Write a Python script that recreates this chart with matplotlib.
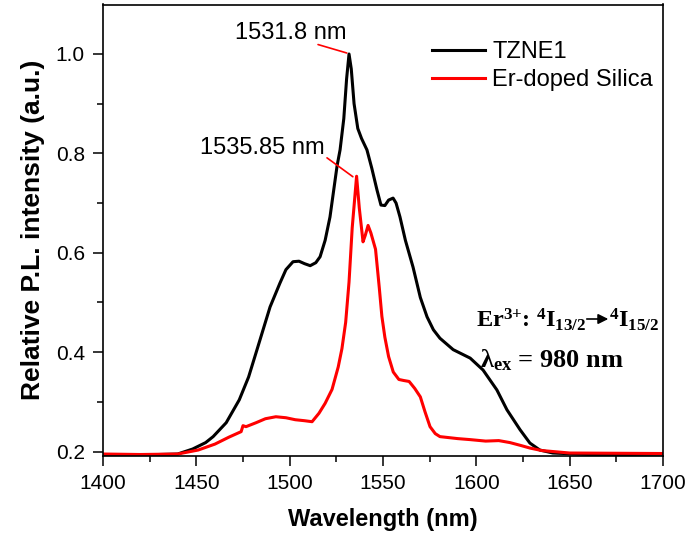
import matplotlib
matplotlib.use("Agg")
import matplotlib.pyplot as plt
from matplotlib.ticker import MultipleLocator, FormatStrFormatter

plt.rcParams['font.family'] = ['Liberation Sans', 'DejaVu Sans']
plt.rcParams['mathtext.fontset'] = 'custom'
plt.rcParams['mathtext.rm'] = 'Liberation Serif:bold'
plt.rcParams['mathtext.it'] = 'Liberation Serif:bold:italic'
plt.rcParams['mathtext.bf'] = 'Liberation Serif:bold'
plt.rcParams['mathtext.default'] = 'rm'

# ---- data ----
wl_tzne = [1400, 1420, 1440, 1448, 1455, 1459, 1466, 1473, 1478, 1482.5, 1489.5, 1494.8,
           1498, 1501.8, 1505, 1508, 1511, 1514, 1516.3, 1519, 1521.6, 1525.4, 1527, 1529,
           1530.5, 1531.8, 1533, 1534.5, 1536.5, 1538.5, 1541.4, 1544, 1546.8, 1548.9, 1551,
           1553, 1555.4, 1557, 1559.1, 1562, 1566.1, 1570, 1573.6, 1577, 1580.5, 1587.6,
           1596.7, 1603.6, 1611, 1616.4, 1623.4, 1628.7, 1634, 1641, 1660, 1680, 1700]
int_tzne = [0.194, 0.193, 0.195, 0.205, 0.218, 0.230, 0.258, 0.304, 0.350, 0.405, 0.491, 0.539,
            0.566, 0.582, 0.583, 0.578, 0.574, 0.580, 0.592, 0.625, 0.672, 0.775, 0.807, 0.870,
            0.950, 1.000, 0.970, 0.900, 0.850, 0.830, 0.807, 0.770, 0.726, 0.696, 0.695,
            0.706, 0.710, 0.700, 0.672, 0.625, 0.571, 0.510, 0.471, 0.445, 0.428, 0.405,
            0.388, 0.364, 0.324, 0.284, 0.244, 0.217, 0.203, 0.197, 0.194, 0.194, 0.195]

wl_si = [1400, 1420, 1440, 1451, 1460, 1467.5, 1474, 1475, 1476.6, 1482, 1487, 1492.6, 1498,
         1503, 1508, 1512, 1515.7, 1519, 1522.7, 1526, 1528, 1530, 1531.8, 1533.5, 1535.85,
         1537.3, 1539.3, 1540.5, 1542, 1543.5, 1546, 1548, 1549.4, 1551, 1553, 1555.5, 1558.5,
         1561, 1564, 1567, 1570, 1572.5, 1575.2, 1578, 1580.5, 1590, 1596.6, 1605, 1612, 1618,
         1624, 1628.7, 1635, 1641, 1650, 1700]
int_si = [0.195, 0.194, 0.195, 0.203, 0.215, 0.229, 0.240, 0.252, 0.250, 0.258, 0.266, 0.270, 0.268,
          0.264, 0.262, 0.260, 0.277, 0.297, 0.325, 0.370, 0.407, 0.460, 0.541, 0.650, 0.754,
          0.690, 0.622, 0.635, 0.655, 0.640, 0.607, 0.530, 0.472, 0.430, 0.391, 0.360, 0.345,
          0.343, 0.341, 0.327, 0.310, 0.280, 0.250, 0.236, 0.230, 0.226, 0.224, 0.221, 0.222, 0.218,
          0.212, 0.207, 0.202, 0.200, 0.197, 0.196]

series_labels = ["TZNE1", "Er-doped Silica"]
peak_tzne = (1531.8, 1.0)
peak_si = (1535.85, 0.754)
peak_labels = ["1531.8 nm", "1535.85 nm"]

W, H = 686, 533
fig = plt.figure(figsize=(W / 100, H / 100), dpi=100)
ax = fig.add_axes([103 / W, (H - 456) / H, 560 / W, 451.5 / H])

ax.plot(wl_tzne, int_tzne, color='black', lw=2.2, label=series_labels[0])
ax.plot(wl_si, int_si, color='#ff0000', lw=2.2, label=series_labels[1])

ax.set_xlim(1400, 1700)
ax.set_ylim(0.191, 1.0996)
ax.xaxis.set_major_locator(MultipleLocator(50))
ax.xaxis.set_minor_locator(MultipleLocator(25))
ax.yaxis.set_major_locator(MultipleLocator(0.2))
ax.yaxis.set_minor_locator(MultipleLocator(0.1))
ax.yaxis.set_major_formatter(FormatStrFormatter('%.1f'))
ax.tick_params(which='major', direction='out', length=7, width=1.1, labelsize=15, pad=6)
ax.tick_params(which='minor', direction='out', length=4, width=1.1)
ax.tick_params(top=False, right=False, which='both')
for s in ax.spines.values():
    s.set_linewidth(1.2)

ax.set_xlabel("Wavelength (nm)", fontsize=17, fontweight='bold', labelpad=11)
ax.set_ylabel("Relative P.L. intensity (a.u.)", fontsize=19, fontweight='bold', labelpad=8)

leg = ax.legend(loc='center left', bbox_to_anchor=((432 - 103) / 560, (456 - 66) / 451.5),
                frameon=False, fontsize=17, handlelength=2.25, handletextpad=0.3,
                labelspacing=0.25, borderpad=0, borderaxespad=0)
for l in leg.get_lines():
    l.set_linewidth(2.2)

# peak annotations
ax.text(1530.7, 1.042, peak_labels[0], ha='right', va='center', fontsize=17)
ax.annotate('', xy=(peak_tzne[0] - 1.2, peak_tzne[1] + 0.002), xytext=(1515.2, 1.019),
            arrowprops=dict(arrowstyle='-', color='red', lw=1.2, shrinkA=0, shrinkB=0))
ax.text(1518.9, 0.810, peak_labels[1], ha='right', va='center', fontsize=17)
ax.annotate('', xy=(peak_si[0] - 2.0, peak_si[1] - 0.001), xytext=(1520.0, 0.791),
            arrowprops=dict(arrowstyle='-', color='red', lw=1.2, shrinkA=0, shrinkB=0))

# transition text (Times-like bold)
def fpx(x, y_top):
    return x / W, 1 - y_top / H

FS = 17.5
x0, y0 = fpx(476, 327)
t1 = fig.text(x0, y0, r"Er$^{3{+}}$: ${}^{4}$I$_{13/2}$", family='Liberation Serif',
              fontweight='bold', fontsize=FS, va='baseline', ha='left')
fig.canvas.draw()
bb = t1.get_window_extent()
ya = H - 319
ax.annotate('', xy=(bb.x1 + 22, ya), xytext=(bb.x1 + 0.5, ya), xycoords='figure pixels',
            textcoords='figure pixels',
            arrowprops=dict(arrowstyle='-|>', color='black', lw=1.2, mutation_scale=15,
                            shrinkA=0, shrinkB=0))
fig.text((bb.x1 + 22.5) / W, y0, r"${}^{4}$I$_{15/2}$", family='Liberation Serif',
         fontweight='bold', fontsize=FS, va='baseline', ha='left')
x1, y1 = fpx(480, 367)
fig.text(x1, y1, r"λ$_{ex}$ = 980 nm", family='Liberation Serif',
         fontweight='bold', fontsize=19, va='baseline', ha='left')

fig.savefig("out.png", dpi=100)
